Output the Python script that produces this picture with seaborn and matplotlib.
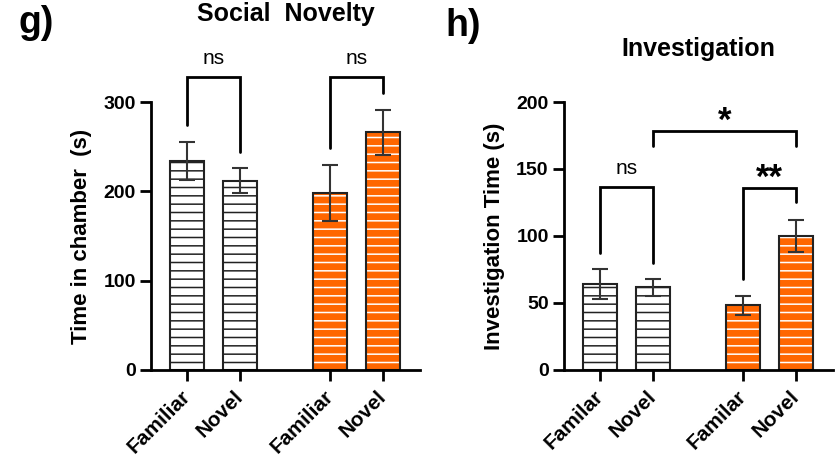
import numpy as np
import pandas as pd
import matplotlib
matplotlib.use("Agg")
import matplotlib.pyplot as plt
from matplotlib.patches import Rectangle
from matplotlib.transforms import ScaledTranslation
import seaborn as sns

# ─── Data ─────────────────────────────────────────────────────────────────────
GROUPS       = ["Group 1", "Group 2"]
BAR_COLORS   = ["white", "#FF6600"]
HATCH_COLORS = ["#222222", "white"]

# g) Social Novelty
g_labels   = ["Familiar", "Novel", "Familiar", "Novel"]
g_means    = [234, 212, 198, 266]
g_sem      = [21, 14, 31, 25.5]
# (bar a, bar b, bracket top, leg a end, leg b end, label)
g_brackets = [(0, 1, 328, 274, 244, "ns"),
              (2, 3, 328, 248, 310, "ns")]

# h) Investigation
h_labels   = ["Familar", "Novel", "Familar", "Novel"]
h_means    = [64, 61.6, 48.4, 100.3]
h_sem      = [11, 6.5, 7, 12]
h_brackets = [(0, 1, 136.5, 87, 80, "ns"),
              (2, 3, 136, 68, 125, "**"),
              (1, 3, 178.4, 167, 167, "*")]

# ─── Style ────────────────────────────────────────────────────────────────────
sns.set_style("ticks")
plt.rcParams["font.family"] = ["Liberation Sans", "DejaVu Sans"]
plt.rcParams["font.weight"] = "bold"
plt.rcParams["axes.labelweight"] = "bold"
plt.rcParams["axes.titleweight"] = "bold"
plt.rcParams["hatch.linewidth"] = 1.1
for k in ["text.color", "axes.labelcolor", "xtick.color", "ytick.color"]:
    plt.rcParams[k] = "black"


def draw_panel(ax, labels, means, sems, brackets, ymax, yticks, ylabel, title, title_pad):
    df = pd.DataFrame({"group": np.repeat(GROUPS, 2), "condition": labels, "time": means})
    sns.barplot(data=df, x="group", y="time", hue="condition", errorbar=None,
                width=0.74, gap=0.36, legend=False, ax=ax)

    bars = sorted(ax.patches, key=lambda p: p.get_x())
    xs = [p.get_x() + p.get_width() / 2 for p in bars]
    for i, p in enumerate(bars):
        gi = i // 2
        p.set_facecolor(BAR_COLORS[gi])
        p.set_edgecolor(HATCH_COLORS[gi])
        p.set_hatch("--")
        p.set_linewidth(0)
        ax.add_patch(Rectangle(p.get_xy(), p.get_width(), p.get_height(), fill=False,
                               edgecolor="#222222", lw=1.5, zorder=p.get_zorder() + 0.1))

    ax.errorbar(xs, means, yerr=sems, fmt="none", ecolor="#333333",
                elinewidth=1.5, capsize=6, capthick=1.5, zorder=5)

    for a, b, top, ya, yb, txt in brackets:
        ax.plot([xs[a], xs[a], xs[b], xs[b]], [ya, top, top, yb], color="black",
                lw=2, clip_on=False, solid_joinstyle="miter")
        mid = (xs[a] + xs[b]) / 2
        if txt == "ns":
            ax.annotate(txt, (mid, top), xytext=(0, 9.5), textcoords="offset points",
                        ha="center", va="baseline", fontsize=15, fontweight="normal",
                        annotation_clip=False)
        else:
            ax.annotate(txt, (mid, top), xytext=(0, 0), textcoords="offset points",
                        ha="center", va="baseline", fontsize=25, fontweight="bold",
                        annotation_clip=False)

    ax.set_ylim(0, ymax)
    ax.set_yticks(yticks)
    left = xs[0] - 0.252
    ax.set_xlim(left, left + 1.881)
    ax.set_xticks(xs)
    ax.set_xticklabels(labels, rotation=45, ha="right", va="center",
                       rotation_mode="anchor", fontsize=15)
    shift = ScaledTranslation(4 / 72, 0, ax.figure.dpi_scale_trans)
    for lbl in ax.get_xticklabels():
        lbl.set_transform(lbl.get_transform() + shift)
    ax.set_xlabel("")
    ax.set_ylabel(ylabel, fontsize=16, labelpad=8)
    ax.set_title(title, fontsize=18, pad=title_pad)
    sns.despine(ax=ax)
    for s in ["left", "bottom"]:
        ax.spines[s].set_linewidth(2)
        ax.spines[s].set_color("black")
    ax.tick_params(axis="both", length=8, width=2, color="black", labelsize=14, pad=3)
    ax.tick_params(axis="x", labelsize=15, pad=9)


fig = plt.figure(figsize=(8.4, 4.57), dpi=100)
ax_g = fig.add_axes([0.1798, 0.1904, 0.3202, 0.5864])
ax_h = fig.add_axes([0.6714, 0.1904, 0.3202, 0.5864])

draw_panel(ax_g, g_labels, g_means, g_sem, g_brackets, 300, [0, 100, 200, 300],
           "Time in chamber  (s)", "Social  Novelty", 58)
draw_panel(ax_h, h_labels, h_means, h_sem, h_brackets, 200, [0, 50, 100, 150, 200],
           "Investigation Time (s)", "Investigation", 33)

fig.text(18 / 840, 1 - 33 / 457, "g)", fontsize=27, fontweight="bold", va="baseline")
fig.text(445 / 840, 1 - 36 / 457, "h)", fontsize=27, fontweight="bold", va="baseline")

fig.savefig("out.png", dpi=100)
